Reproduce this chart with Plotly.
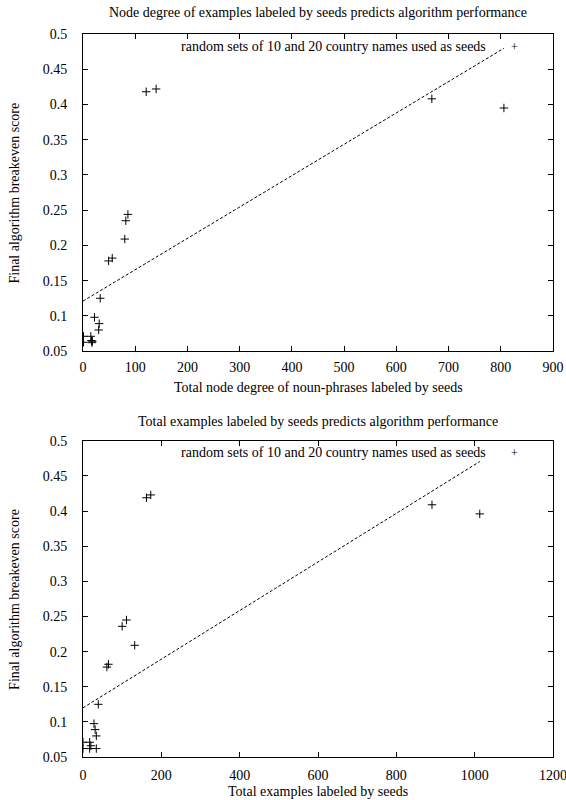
import plotly.graph_objects as go

# ---- data ----
node_degree = [121, 140, 86, 82, 80, 56, 49, 33, 22, 31, 30, 1, 1, 15, 16, 17, 18, 668, 806]
score_top = [0.418, 0.422, 0.244, 0.235, 0.209, 0.182, 0.178, 0.125, 0.098, 0.089, 0.080,
             0.071, 0.0625, 0.071, 0.065, 0.062, 0.064, 0.408, 0.395]

total_examples = [162, 173, 111, 100, 132, 65, 61, 39, 28, 31, 34, 0, 0, 17, 20, 17, 34, 891, 1013]
score_bot = [0.419, 0.423, 0.245, 0.236, 0.209, 0.182, 0.178, 0.125, 0.0975, 0.089, 0.080,
             0.071, 0.062, 0.071, 0.066, 0.062, 0.062, 0.409, 0.396]

# linear fits (intercept, slope)
fit_top = (0.121, 0.000445)
fit_bot = (0.120, 0.000346)

y_ticks = [0.05, 0.1, 0.15, 0.2, 0.25, 0.3, 0.35, 0.4, 0.45, 0.5]
y_tick_labels = ["0.05", "0.1", "0.15", "0.2", "0.25", "0.3", "0.35", "0.4", "0.45", "0.5"]
x_ticks_top = [0, 100, 200, 300, 400, 500, 600, 700, 800, 900]
x_ticks_bot = [0, 200, 400, 600, 800, 1000, 1200]

title_top = "Node degree of examples labeled by seeds predicts algorithm performance"
title_bot = "Total examples labeled by seeds predicts algorithm performance"
xlabel_top = "Total node degree of noun-phrases labeled by seeds"
xlabel_bot = "Total examples labeled by seeds"
ylabel = "Final algorithm breakeven score"
key_label = "random sets of 10 and 20 country names used as seeds"

FONT = "Liberation Serif"


def F(size=14):
    return dict(family=FONT, size=size, color="black")


fig = go.Figure()

marker = dict(symbol="cross-thin", size=6, line=dict(color="black", width=1), color="black")

fig.add_trace(go.Scatter(x=node_degree, y=score_top, mode="markers", marker=marker,
                         xaxis="x", yaxis="y", showlegend=False))
xt = [0, max(node_degree)]
fig.add_trace(go.Scatter(x=xt, y=[fit_top[0] + fit_top[1] * v for v in xt], mode="lines",
                         line=dict(color="black", width=1, dash="3px,2px"),
                         xaxis="x", yaxis="y", showlegend=False))

fig.add_trace(go.Scatter(x=total_examples, y=score_bot, mode="markers", marker=marker,
                         xaxis="x2", yaxis="y2", showlegend=False))
xb = [0, max(total_examples)]
fig.add_trace(go.Scatter(x=xb, y=[fit_bot[0] + fit_bot[1] * v for v in xb], mode="lines",
                         line=dict(color="black", width=1, dash="3px,2px"),
                         xaxis="x2", yaxis="y2", showlegend=False))


def axis(**kw):
    d = dict(showline=True, linecolor="black", linewidth=1, mirror="allticks",
             ticks="inside", ticklen=5, tickcolor="black", showgrid=False,
             zeroline=False, automargin=False, ticklabeloverflow="allow",
             tickfont=F(14))
    d.update(kw)
    return d


fig.update_layout(
    template="none",
    width=566, height=800,
    margin=dict(l=83, r=13, t=34, b=43),
    plot_bgcolor="white", paper_bgcolor="white",
    font=F(14),
    xaxis=axis(range=[0, 900], tickvals=x_ticks_top, anchor="y", ticklabelstandoff=3),
    yaxis=axis(range=[0.05, 0.5], tickvals=y_ticks, ticktext=y_tick_labels, anchor="x",
               domain=[0.5614, 1], ticklabelstandoff=12),
    xaxis2=axis(range=[0, 1200], tickvals=x_ticks_bot, anchor="y2", ticklabelstandoff=5),
    yaxis2=axis(range=[0.05, 0.5], tickvals=y_ticks, ticktext=y_tick_labels, anchor="x2",
                domain=[0, 0.4373], ticklabelstandoff=12),
)

annos = [
    # plot titles
    dict(text=title_top, xref="paper", yref="paper", x=0.5, y=1.03, yanchor="middle"),
    dict(text=title_bot, xref="paper", yref="paper", x=0.5, y=0.4647, yanchor="middle"),
    # x-axis titles
    dict(text=xlabel_top, xref="paper", yref="paper", x=0.5, y=0.5104, yanchor="middle"),
    dict(text=xlabel_bot, xref="paper", yref="paper", x=0.5, y=-0.0484, yanchor="middle"),
    # y-axis titles
    dict(text=ylabel, xref="paper", yref="y domain", x=-0.1447, y=0.5, textangle=-90,
         xanchor="center", yanchor="middle"),
    dict(text=ylabel, xref="paper", yref="y2 domain", x=-0.1447, y=0.5, textangle=-90,
         xanchor="center", yanchor="middle"),
    # key labels
    dict(text=key_label, xref="x domain", yref="y domain", x=0.862, y=0.96,
         xanchor="right", yanchor="middle"),
    dict(text=key_label, xref="x2 domain", yref="y2 domain", x=0.862, y=0.963,
         xanchor="right", yanchor="middle"),
]
for a in annos:
    a.update(showarrow=False, font=F(14))
    fig.add_annotation(**a)

# key samples ("+") to the right of the key labels
for xr, yr, yy in [("x domain", "y domain", 0.96), ("x2 domain", "y2 domain", 0.963)]:
    fig.add_annotation(text="+", xref=xr, yref=yr, x=0.919, y=yy, showarrow=False,
                       xanchor="center", yanchor="middle", font=F(12))

fig.write_html("out.html", config={"displayModeBar": False},
               post_script="document.body.style.margin='0';")
